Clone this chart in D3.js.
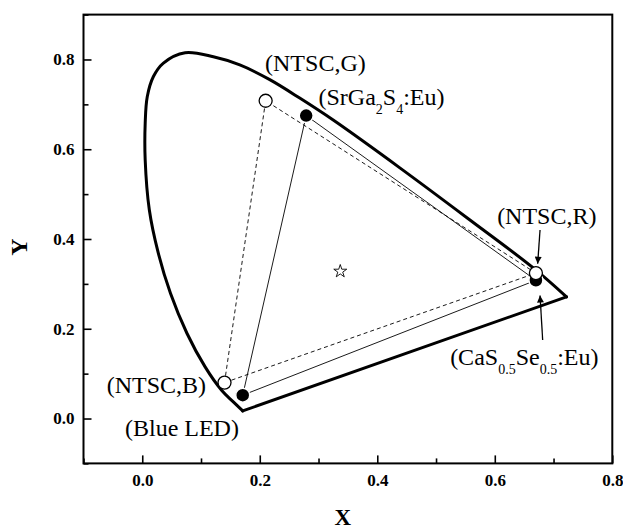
<!DOCTYPE html>
<html>
<head>
<meta charset="utf-8">
<script src="https://cdnjs.cloudflare.com/ajax/libs/d3/7.8.5/d3.min.js"></script>
<style>
body { margin: 0; background: #fff; }
svg text { font-family: "Liberation Serif", "Times New Roman", serif; }
</style>
</head>
<body>
<svg id="chart" width="623" height="529"></svg>
<script>
var margin = {
    left: 83.5,
    right: 10.7,
    top: 14.6,
    bottom: 65.6
};
var fullWidth = 623, fullHeight = 529;
var width = fullWidth - margin.left - margin.right;
var height = fullHeight - margin.top - margin.bottom;

// spectral locus (x, y)
var locusX = [0.171, 0.155, 0.135, 0.107, 0.076, 0.048, 0.027, 0.012, 0.005, 0.005, 0.0085, 0.019, 0.036, 0.073, 0.121, 0.166, 0.217, 0.268, 0.325, 0.439, 0.552, 0.666, 0.722];
var locusY = [0.017, 0.037, 0.063, 0.115, 0.190, 0.279, 0.370, 0.465, 0.576, 0.658, 0.717, 0.762, 0.792, 0.815, 0.806, 0.788, 0.755, 0.714, 0.665, 0.558, 0.448, 0.335, 0.271];

// NTSC primaries (B, G, R) and phosphors (Blue LED, SrGa2S4:Eu, CaS0.5Se0.5:Eu)
var ntscX = [0.14, 0.21, 0.67];
var ntscY = [0.08, 0.708, 0.324];
var phosX = [0.171, 0.279, 0.670];
var phosY = [0.052, 0.675, 0.308];

var whitePoint = [0.337, 0.328];

var xMajor = [0.0, 0.2, 0.4, 0.6, 0.8];
var xMinor = [-0.1, 0.1, 0.3, 0.5, 0.7];
var yMajor = [0.0, 0.2, 0.4, 0.6, 0.8];
var yMinor = [-0.1, 0.1, 0.3, 0.5, 0.7, 0.9];

// labels: text parts [text, isSub] and anchor in data coords
var labels = [
    {parts: [["(NTSC,G)", 0]], x: 0.209, y: 0.774},
    {parts: [["(SrGa", 0], ["2", 1], ["S", 0], ["4", 1], [":Eu)", 0]], x: 0.300, y: 0.6975},
    {parts: [["(NTSC,R)", 0]], x: 0.604, y: 0.4345},
    {parts: [["(NTSC,B)", 0]], x: -0.0606, y: 0.056},
    {parts: [["(Blue LED)", 0]], x: -0.0294, y: -0.039},
    {parts: [["(CaS", 0], ["0.5", 1], ["Se", 0], ["0.5", 1], [":Eu)", 0]], x: 0.524, y: 0.119}
];
var arrows = [
    {x1: 0.677, y1: 0.420, x2: 0.673, y2: 0.345},
    {x1: 0.6815, y1: 0.175, x2: 0.677, y2: 0.274}
];

var svg = d3.select("#chart");
var defs = svg.append("defs");
defs.append("marker")
    .attr("id", "arrowhead")
    .attr("viewBox", "0 0 10 10")
    .attr("refX", 10).attr("refY", 5)
    .attr("markerWidth", 9).attr("markerHeight", 7)
    .attr("markerUnits", "userSpaceOnUse")
    .attr("orient", "auto")
    .append("path").attr("d", "M0,0 L10,5 L0,10 Z").attr("fill", "#000");

var g = svg.append("g").attr("transform", "translate(" + margin.left + "," + margin.top + ")");

var x = d3.scaleLinear().domain([-0.1, 0.8]).range([0, width]);
var y = d3.scaleLinear().domain([-0.1, 0.9]).range([height, 0]);

// axes with inward ticks
var fmt = d3.format(".1f");
g.append("g").attr("class", "axis")
    .attr("transform", "translate(0," + height + ")")
    .call(d3.axisBottom(x).tickValues(xMajor).tickFormat(fmt).tickSizeInner(-8).tickSizeOuter(0).tickPadding(11));
g.append("g").attr("class", "axis")
    .attr("transform", "translate(0," + height + ")")
    .call(d3.axisBottom(x).tickValues(xMinor).tickFormat("").tickSizeInner(-5).tickSizeOuter(0));
g.append("g").attr("class", "axis")
    .call(d3.axisLeft(y).tickValues(yMajor).tickFormat(fmt).tickSizeInner(-8).tickSizeOuter(0).tickPadding(9));
g.append("g").attr("class", "axis")
    .call(d3.axisLeft(y).tickValues(yMinor).tickFormat("").tickSizeInner(-5).tickSizeOuter(0));

g.selectAll(".axis .domain").remove();
g.selectAll(".axis line").attr("stroke", "#000").attr("stroke-width", 1.6);
g.selectAll(".axis text")
    .attr("fill", "#000")
    .style("font-size", "17px")
    .style("font-weight", "bold");

g.append("rect")
    .attr("x", 0).attr("y", 0)
    .attr("width", width).attr("height", height)
    .attr("fill", "none").attr("stroke", "#000").attr("stroke-width", 2);

// axis titles
svg.append("text")
    .attr("x", margin.left + width / 2 - 5)
    .attr("y", 525)
    .attr("text-anchor", "middle")
    .style("font-size", "23px").style("font-weight", "bold")
    .text("X");
svg.append("text")
    .attr("transform", "translate(27," + (margin.top + height / 2 + 8) + ") rotate(-90)")
    .attr("text-anchor", "middle")
    .style("font-size", "24px").style("font-weight", "bold")
    .text("Y");

// spectral locus + purple line
var locus = locusX.map((v, i) => [v, locusY[i]]);
var line = d3.line().x(d => x(d[0])).y(d => y(d[1])).curve(d3.curveCatmullRom.alpha(0.5));
g.append("path")
    .attr("d", line(locus))
    .attr("fill", "none").attr("stroke", "#000").attr("stroke-width", 3)
    .attr("stroke-linejoin", "round").attr("stroke-linecap", "round");
g.append("path")
    .attr("d", d3.line().x(d => x(d[0])).y(d => y(d[1]))([locus[locus.length - 1], locus[0]]))
    .attr("fill", "none").attr("stroke", "#000").attr("stroke-width", 3)
    .attr("stroke-linecap", "round");

// triangles
var ntsc = ntscX.map((v, i) => [v, ntscY[i]]);
var phos = phosX.map((v, i) => [v, phosY[i]]);
var triLine = d3.line().x(d => x(d[0])).y(d => y(d[1])).curve(d3.curveLinearClosed);

g.append("path")
    .attr("d", triLine(ntsc))
    .attr("fill", "none").attr("stroke", "#000").attr("stroke-width", 0.9)
    .attr("stroke-dasharray", "4,3");
g.append("path")
    .attr("d", triLine(phos))
    .attr("fill", "none").attr("stroke", "#000").attr("stroke-width", 0.9);

// points
g.selectAll(".phos").data(phos).enter().append("circle")
    .attr("class", "phos")
    .attr("cx", d => x(d[0])).attr("cy", d => y(d[1]))
    .attr("r", 7).attr("fill", "#000").attr("stroke", "#fff").attr("stroke-width", 1.5);
g.selectAll(".ntsc").data(ntsc).enter().append("circle")
    .attr("class", "ntsc")
    .attr("cx", d => x(d[0])).attr("cy", d => y(d[1]))
    .attr("r", 6.5).attr("fill", "#fff").attr("stroke", "#000").attr("stroke-width", 1.3);

g.append("path")
    .attr("transform", "translate(" + x(whitePoint[0]) + "," + y(whitePoint[1]) + ")")
    .attr("d", d3.symbol().type(d3.symbolStar).size(52)())
    .attr("fill", "#fff").attr("stroke", "#000").attr("stroke-width", 0.9);

// arrows
g.selectAll(".arrow").data(arrows).enter().append("line")
    .attr("class", "arrow")
    .attr("x1", d => x(d.x1)).attr("y1", d => y(d.y1))
    .attr("x2", d => x(d.x2)).attr("y2", d => y(d.y2))
    .attr("stroke", "#000").attr("stroke-width", 1.3)
    .attr("marker-end", "url(#arrowhead)");

// labels
labels.forEach(lab => {
    var t = g.append("text")
        .attr("x", x(lab.x)).attr("y", y(lab.y))
        .style("font-size", "24px");
    var prevSub = 0;
    lab.parts.forEach(p => {
        var ts = t.append("tspan").text(p[0]);
        if (p[1] === 1) {
            ts.style("font-size", "14px").attr("dy", 9);
        } else if (prevSub === 1) {
            ts.attr("dy", -9);
        }
        prevSub = p[1];
    });
});
</script>
</body>
</html>
